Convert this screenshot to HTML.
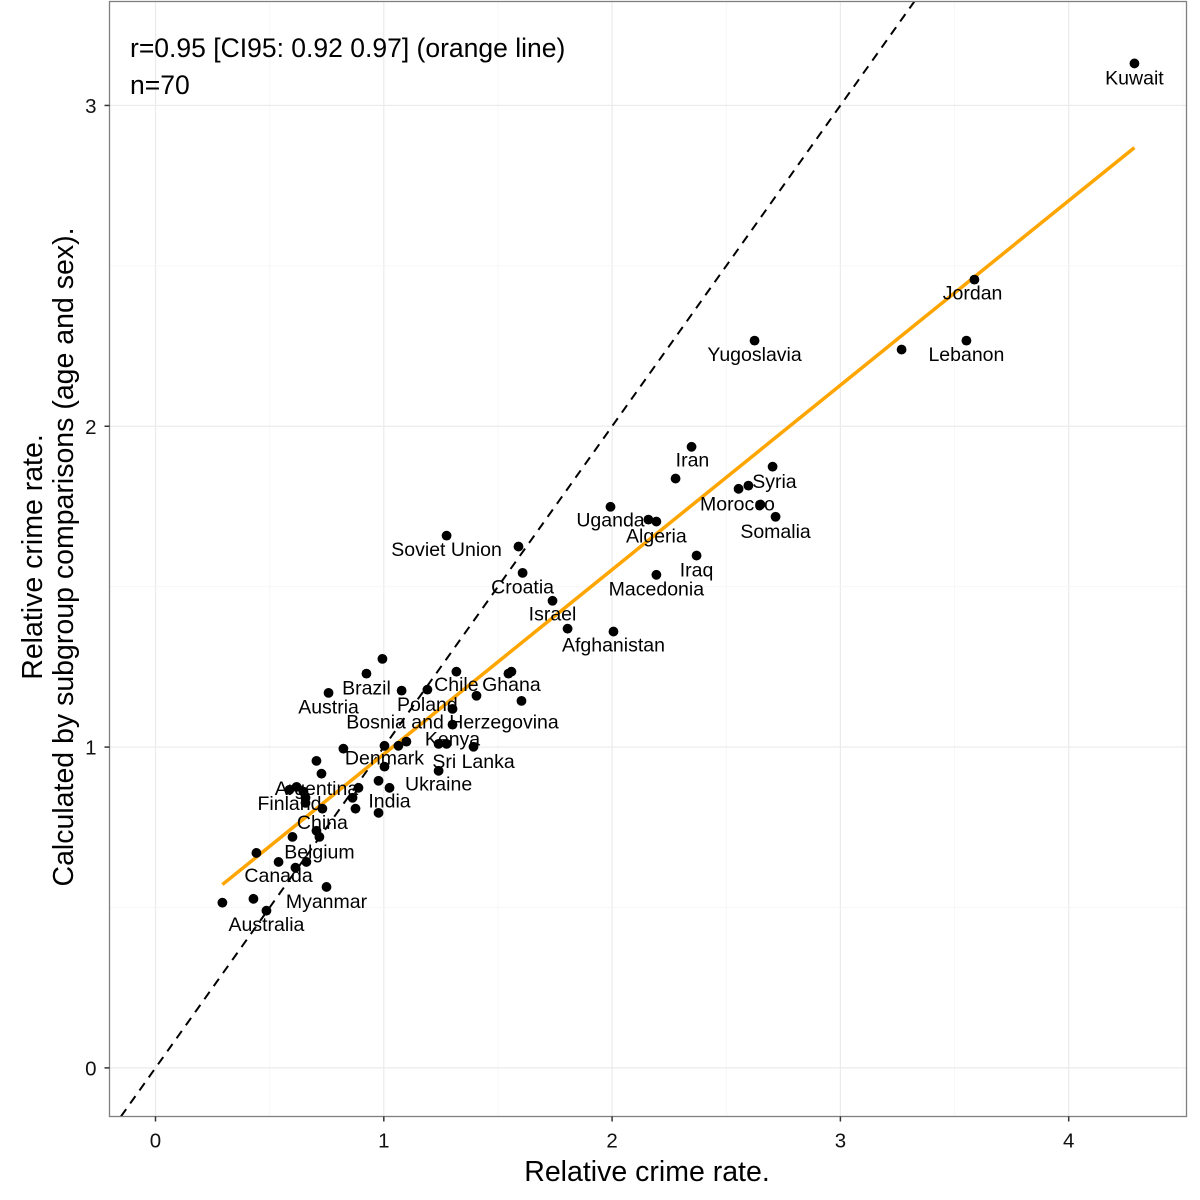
<!DOCTYPE html>
<html><head><meta charset="utf-8"><style>
html,body{margin:0;padding:0;background:#fff;}
svg{display:block;font-family:"Liberation Sans",Arial,sans-serif;}
</style></head><body>
<svg id="chart" width="1200" height="1200" viewBox="0 0 1200 1200" xmlns="http://www.w3.org/2000/svg">
<rect x="0" y="0" width="1200" height="1200" fill="#fff"/>
<g id="grid"></g>
<g id="lines"></g>
<g id="points"></g>
<g id="labels"></g>
<rect x="109.5" y="1.5" width="1077" height="1115" fill="none" stroke="#7f7f7f" stroke-width="1.3"/>
<g id="axes"></g>
<text x="130" y="57" font-size="26.5" fill="#000">r=0.95 [CI95: 0.92 0.97] (orange line)</text>
<text x="130" y="94" font-size="26.5" fill="#000">n=70</text>
<text x="647" y="1181" font-size="28.5" text-anchor="middle" fill="#000">Relative crime rate.</text>
<text transform="translate(42,557) rotate(-90)" font-size="28.5" text-anchor="middle" fill="#000"><tspan x="0" dy="0">Relative crime rate.</tspan><tspan x="0" dy="31">Calculated by subgroup comparisons (age and sex).</tspan></text>
</svg>
<script>
const xTicks = [0, 1, 2, 3, 4];
const yTicks = [0, 1, 2, 3];
const pointX = [0.994,0.924,1.318,1.559,1.546,0.758,1.078,1.191,1.406,1.603,1.301,1.301,0.823,1.003,1.064,1.099,1.240,1.275,1.393,0.705,0.727,1.003,1.240,0.977,1.025,0.889,0.587,0.618,0.648,0.657,0.863,0.731,0.876,0.977,0.657,0.705,0.718,0.600,0.442,0.539,0.661,0.613,0.749,0.429,0.293,0.486,1.275,1.590,1.608,1.739,1.805,2.006,2.194,2.370,1.993,2.159,2.194,2.278,2.348,2.554,2.597,2.703,2.650,2.716,2.624,3.268,3.552,3.587,4.288];
const pointY = [1.275,1.229,1.235,1.235,1.229,1.169,1.176,1.179,1.160,1.144,1.119,1.070,0.995,1.004,1.004,1.017,1.010,1.010,1.001,0.957,0.917,0.939,0.926,0.895,0.873,0.873,0.867,0.876,0.861,0.842,0.842,0.808,0.808,0.795,0.826,0.739,0.720,0.720,0.670,0.642,0.642,0.624,0.564,0.527,0.515,0.490,1.659,1.625,1.543,1.456,1.369,1.360,1.537,1.597,1.749,1.709,1.703,1.837,1.936,1.805,1.815,1.874,1.756,1.718,2.267,2.239,2.267,2.457,3.131];
const labelNames = ["Kuwait","Jordan","Yugoslavia","Lebanon","Iran","Syria","Morocco","Uganda","Somalia","Algeria","Soviet Union","Iraq","Croatia","Macedonia","Israel","Afghanistan","Brazil","Chile","Ghana","Austria","Poland","Bosnia and Herzegovina","Kenya","Denmark","Sri Lanka","Ukraine","Argentina","Finland","India","China","Belgium","Canada","Myanmar","Australia"];
const labelX = [4.288,3.579,2.624,3.552,2.352,2.711,2.549,1.993,2.716,2.194,1.275,2.370,1.608,2.194,1.739,2.006,0.924,1.318,1.559,0.758,1.191,1.301,1.301,1.003,1.393,1.240,0.705,0.587,1.025,0.731,0.718,0.539,0.749,0.486];
const labelY = [3.087,2.417,2.226,2.226,1.896,1.830,1.759,1.709,1.674,1.659,1.618,1.553,1.500,1.494,1.416,1.319,1.185,1.197,1.197,1.126,1.135,1.079,1.026,0.967,0.957,0.886,0.873,0.826,0.833,0.767,0.674,0.602,0.521,0.449];
const fitIntercept = 0.403;
const fitSlope = 0.575;
const fitRange = [0.293, 4.288];

const X0=109.5, X1=1186.5, Y0=1.5, Y1=1116.5;
const xMin=-0.2015, xMax=4.516, yMin=-0.1515, yMax=3.324;
function sx(v){return X0+(v-xMin)/(xMax-xMin)*(X1-X0);}
function sy(v){return Y1-(v-yMin)/(yMax-yMin)*(Y1-Y0);}
const NS="http://www.w3.org/2000/svg";
function mk(tag, attrs, parent){const e=document.createElementNS(NS,tag);for(const k in attrs)e.setAttribute(k,attrs[k]);parent.appendChild(e);return e;}
const grid=document.getElementById('grid'), lines=document.getElementById('lines'), pts=document.getElementById('points'), labs=document.getElementById('labels'), axes=document.getElementById('axes');

for(let v=-0.5; v<=4.6; v+=0.5){
  if(v<xMin||v>xMax) continue;
  const major = Math.abs(v-Math.round(v))<1e-9;
  const l=mk('line',{x1:sx(v),x2:sx(v),y1:Y0,y2:Y1,stroke:major?'#ebebeb':'#f5f5f5','stroke-width':major?1.2:0.8},grid);
  
  
}
for(let v=0; v<=3.3; v+=0.5){
  const major = Math.abs(v-Math.round(v))<1e-9;
  const l=mk('line',{x1:X0,x2:X1,y1:sy(v),y2:sy(v),stroke:major?'#ebebeb':'#f5f5f5','stroke-width':major?1.2:0.8},grid);
  
  
}
const idStart=Math.max(xMin,yMin), idEnd=Math.min(xMax,yMax);
const idl=mk('line',{x1:sx(idStart),y1:sy(idStart),x2:sx(idEnd),y2:sy(idEnd),stroke:'#000','stroke-width':2,'stroke-dasharray':'9,7'},lines);


const fit=mk('line',{x1:sx(fitRange[0]),y1:sy(fitIntercept+fitSlope*fitRange[0]),x2:sx(fitRange[1]),y2:sy(fitIntercept+fitSlope*fitRange[1]),stroke:'#FFA500','stroke-width':3.5},lines);



for(let i=0;i<pointX.length;i++){
  const c=mk('circle',{cx:sx(pointX[i]),cy:sy(pointY[i]),r:4.9,fill:'#000'},pts);
  
  
}
for(let i=0;i<labelNames.length;i++){
  const t=mk('text',{x:sx(labelX[i]),y:sy(labelY[i])+7,'font-size':19.5,'text-anchor':'middle',fill:'#000'},labs);
  t.textContent=labelNames[i];
  
  
}
xTicks.forEach(v=>{
  const tk=mk('line',{x1:sx(v),x2:sx(v),y1:Y1,y2:Y1+5,stroke:'#333','stroke-width':1.5},axes);
  
  
  const t=mk('text',{x:sx(v),y:Y1+31,'font-size':20.5,'text-anchor':'middle',fill:'#111'},axes);
  t.textContent=v;
  
  
});
yTicks.forEach(v=>{
  const tk=mk('line',{x1:X0-5,x2:X0,y1:sy(v),y2:sy(v),stroke:'#333','stroke-width':1.5},axes);
  
  
  const t=mk('text',{x:X0-13,y:sy(v)+7.5,'font-size':20.5,'text-anchor':'end',fill:'#111'},axes);
  t.textContent=v;
  
  
});
</script>
</body></html>
